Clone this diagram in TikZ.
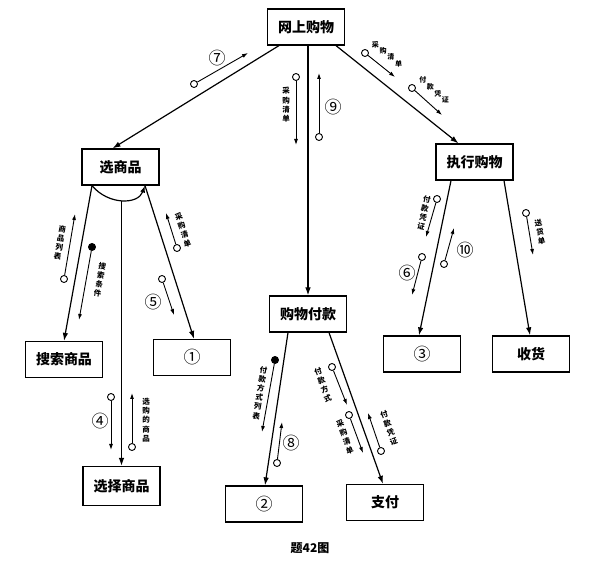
\documentclass[tikz,border=0pt]{standalone}
\usepackage{fontspec}
\setmainfont{Noto Sans CJK SC}
\usetikzlibrary{arrows.meta,calc}
\begin{document}
\begin{tikzpicture}[x=1pt,y=-1pt,
  box/.style={draw,line width=1.2pt,minimum width=77pt,minimum height=36pt,inner sep=0pt,font=\bfseries\fontsize{14}{14}\selectfont},
  conn/.style={line width=1.2pt,-{Latex[length=8pt,width=5.5pt]}},
  flow/.style={line width=0.9pt,-{Latex[length=6pt,width=4pt]}},
  oc/.style={circle,draw,line width=0.9pt,fill=white,inner sep=0pt,minimum size=7pt},
  fc/.style={circle,draw,line width=0.9pt,fill=black,inner sep=0pt,minimum size=7pt},
  vlab/.style={align=center,inner sep=0pt,font=\bfseries\fontsize{7.5}{9.3}\selectfont},
  dlab/.style={inner sep=0pt,font=\bfseries\fontsize{7}{7}\selectfont},
  num/.style={inner sep=0pt,font=\fontsize{17}{17}\selectfont}]
\useasboundingbox (0,0) rectangle (590,572);

% boxes
\node[box] (top)    at (306,27)    {网上购物};
\node[box] (sel)    at (120.5,167) {选商品};
\node[box] (exec)   at (474.5,162) {执行购物};
\node[box] (pay)    at (308,314)   {购物付款};
\node[box] (search) at (64,359.5)  {搜索商品};
\node[box,font=\fontsize{17}{17}\selectfont] (one)    at (192,357.5) {①};
\node[box,font=\fontsize{17}{17}\selectfont] (three)  at (422,354)   {③};
\node[box] (recv)   at (531,354)   {收货};
\node[box,font=\fontsize{17}{17}\selectfont] (two)    at (264,504)   {②};
\node[box] (zf)     at (385,502.5) {支付};
\node[box,minimum height=39pt] (xz) at (121.5,486) {选择商品};
\node[font=\bfseries\fontsize{12}{12}\selectfont] (cap) at (310,548) {题42图};

% main connectors
\draw[conn] ([xshift=-27pt]top.south) -- ([xshift=-8pt]sel.north);
\draw[conn] ([xshift=2pt]top.south) -- (pay.north);
\draw[conn] ([xshift=30pt]top.south) -- ([xshift=-16pt]exec.north);
\draw[conn] ([xshift=-28.5pt]sel.south) -- (search.north);
\draw[conn] ([xshift=24.5pt]sel.south) -- ([xshift=2pt]one.north);
\draw[line width=1.2pt,-{Latex[length=7pt,width=5pt]}] ([xshift=-28.5pt]sel.south) .. controls (108,205) and (138,205) .. ([xshift=24.5pt]sel.south);
\coordinate (arcmid) at (121.5,201);
\draw[conn] (arcmid) -- (arcmid |- xz.north);
\draw[conn] ([xshift=-23.5pt]exec.south) -- ([xshift=-3pt]three.north);
\draw[conn] ([xshift=29.5pt]exec.south) -- ([xshift=-1pt]recv.north);
\draw[conn] ([xshift=-20pt]pay.south) -- ([xshift=1pt]two.north);
\draw[conn] ([xshift=21pt]pay.south) -- ([xshift=-2pt]zf.north);

% flow arrows
\node[oc] (o1) at (194,84) {};   \coordinate (t1) at (248,53);
\node[oc] (o2) at (296,77) {};   \coordinate (t2) at (296,145);
\node[oc] (o3) at (319,137) {};  \coordinate (t3) at (319,73);
\node[oc] (o4) at (365,53) {};   \coordinate (t4) at (395,77);
\node[oc] (o5) at (412,88) {};   \coordinate (t5) at (442,115);
\node[oc] (o6) at (64,279) {};   \coordinate (t6) at (75,214);
\node[fc] (o7) at (92,247) {};   \coordinate (t7) at (79,320);
\node[oc] (o8) at (177,248) {};  \coordinate (t8) at (166,213);
\node[oc] (o9) at (162,279) {};  \coordinate (t9) at (174,315);
\node[oc] (o10) at (111,397) {}; \coordinate (t10) at (111,450);
\node[oc] (o11) at (132,447) {}; \coordinate (t11) at (132,393);
\node[oc] (o12) at (437,199) {}; \coordinate (t12) at (426,237);
\node[oc] (o13) at (444,264) {}; \coordinate (t13) at (454,228);
\node[oc] (o14) at (422,257) {}; \coordinate (t14) at (412,295);
\node[oc] (o15) at (526,213) {}; \coordinate (t15) at (533,255);
\node[fc] (o16) at (275,360) {}; \coordinate (t16) at (262,432);
\node[oc] (o17) at (277,463) {}; \coordinate (t17) at (282,422);
\node[oc] (o18) at (332,367) {}; \coordinate (t18) at (347,405);
\node[oc] (o19) at (349,415) {}; \coordinate (t19) at (363,453);
\node[oc] (o20) at (381,451) {}; \coordinate (t20) at (368,413);
\foreach \i in {1,...,20} {\draw[flow] (o\i) -- (t\i);}

% labels
\node[num] (n7) at (217,58) {⑦};
\node[vlab] (l2) at (286,105) {采\\购\\清\\单};
\node[num] (n9) at (333,107) {⑨};
\foreach \c/\k in {采/0,购/1,清/2,单/3}
  \node[dlab] (l4\k) at ({375.3+7.8*\k},{44.6+6.27*\k}) {\c};
\foreach \c/\k in {付/0,款/1,凭/2,证/3}
  \node[dlab] (l5\k) at ({422.9+7.45*\k},{80+6.7*\k}) {\c};
\node[vlab,rotate=-10] (l6) at (60,243) {商\\品\\列\\表};
\node[vlab,rotate=-10] (l7) at (100,280) {搜\\索\\条\\件};
\node[vlab,rotate=18] (l8) at (183,230) {采\\购\\清\\单};
\node[num] (n5) at (153,302) {⑤};
\node[num] (n4) at (100,421) {④};
\node[vlab] (l11) at (146,420) {选\\购\\的\\商\\品};
\node[vlab,rotate=-12] (l12) at (424,213) {付\\款\\凭\\证};
\node[num] (n10) at (465,250) {⑩};
\node[num] (n6) at (407,273) {⑥};
\node[vlab,rotate=10] (l15) at (540,232) {送\\货\\单};
\node[vlab,rotate=-9] (l16) at (260,393) {付\\款\\方\\式\\列\\表};
\node[num] (n8) at (291,443) {⑧};
\node[vlab,rotate=20] (l18) at (323,385) {付\\款\\方\\式};
\node[vlab,rotate=20] (l19) at (345,437) {采\\购\\清\\单};
\node[vlab,rotate=20] (l20) at (389,428) {付\\款\\凭\\证};
\end{tikzpicture}
\end{document}
